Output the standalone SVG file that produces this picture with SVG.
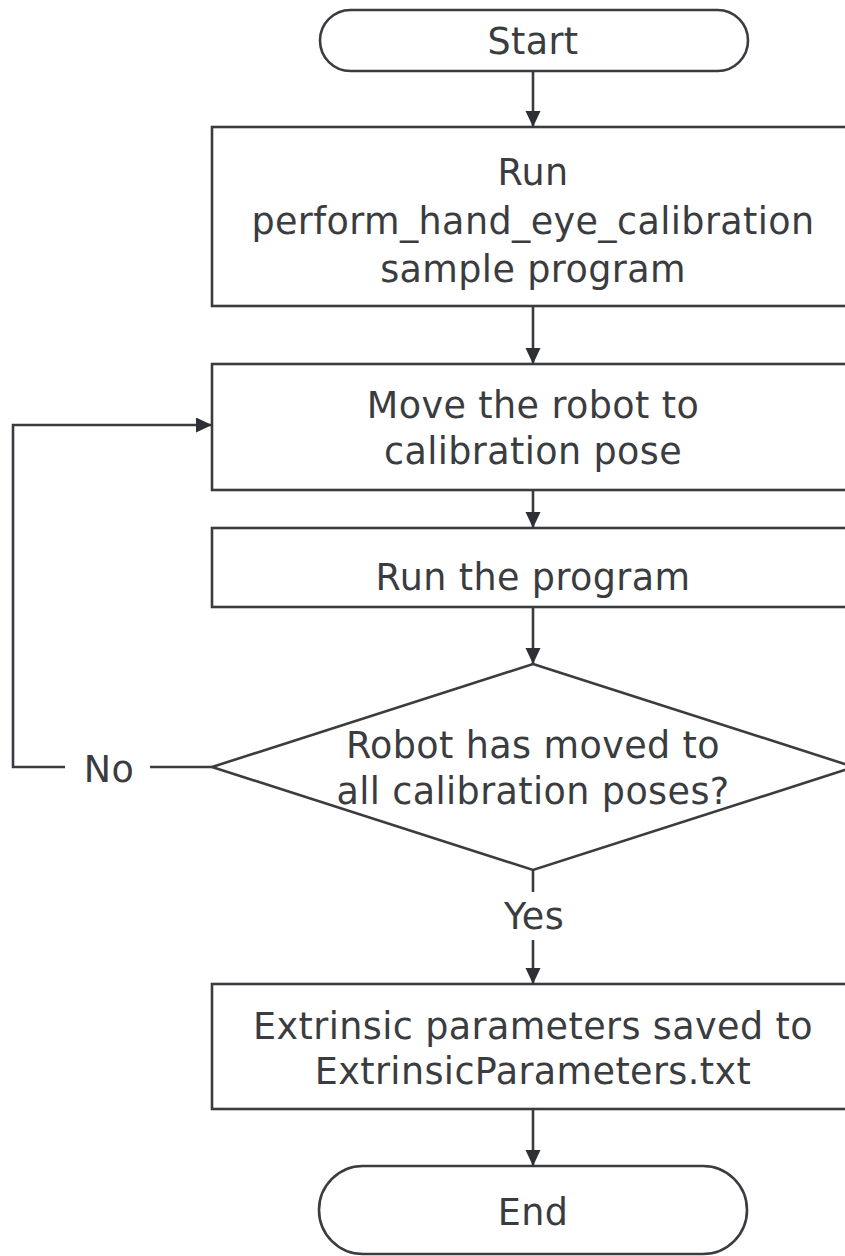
<svg xmlns="http://www.w3.org/2000/svg" width="845" height="1256" viewBox="0 0 845 1256">
<defs>
<marker id="ah" markerWidth="18" markerHeight="18" refX="16" refY="7.5" orient="auto" markerUnits="userSpaceOnUse">
<path d="M0,0 L16,7.5 L0,15 Z" fill="#2e3035"/>
</marker>
<style>
.n{fill:#fff;stroke:#3a3c40;stroke-width:2.6}
.t{font-family:"DejaVu Sans",sans-serif;font-size:36.5px;letter-spacing:0.4px;fill:#3a3c40;text-anchor:middle;dominant-baseline:central}
.c{fill:none;stroke:#3a3c40;stroke-width:2.6}
</style>
</defs>
<rect width="845" height="1256" fill="#fff"/>
<g id="start"><rect class="n" x="320" y="10" width="428" height="61" rx="30.5"/><text class="t" x="533" y="41">Start</text></g>
<g id="run"><rect class="n" x="212" y="127" width="642" height="179"/><text class="t" x="533" y="172">Run</text><text class="t" x="533" y="221">perform_hand_eye_calibration</text><text class="t" x="533" y="269">sample program</text></g>
<g id="move"><rect class="n" x="212" y="364" width="642" height="126"/><text class="t" x="533" y="405">Move the robot to</text><text class="t" x="533" y="451">calibration pose</text></g>
<g id="runprog"><rect class="n" x="212" y="528" width="642" height="79"/><text class="t" x="533" y="577">Run the program</text></g>
<g id="decision"><polygon class="n" points="533,664 854,767 533,870 212,767"/><text class="t" x="533" y="745">Robot has moved to</text><text class="t" x="533" y="791">all calibration poses?</text></g>
<g id="save"><rect class="n" x="212" y="984" width="642" height="125"/><text class="t" x="533" y="1026">Extrinsic parameters saved to</text><text class="t" x="533" y="1071">ExtrinsicParameters.txt</text></g>
<g id="end"><rect class="n" x="319" y="1166" width="428" height="88" rx="44"/><text class="t" x="533" y="1212">End</text></g>
<g id="connectors">
<line class="c" x1="533" y1="71" x2="533" y2="127" marker-end="url(#ah)"/>
<line class="c" x1="533" y1="306" x2="533" y2="364" marker-end="url(#ah)"/>
<line class="c" x1="533" y1="490" x2="533" y2="528" marker-end="url(#ah)"/>
<line class="c" x1="533" y1="607" x2="533" y2="664" marker-end="url(#ah)"/>
<line class="c" x1="533" y1="870" x2="533" y2="892"/>
<line class="c" x1="533" y1="940" x2="533" y2="984" marker-end="url(#ah)"/>
<line class="c" x1="533" y1="1109" x2="533" y2="1166" marker-end="url(#ah)"/>
<line class="c" x1="212" y1="767" x2="150" y2="767"/>
<polyline class="c" points="65,767 13,767 13,425 212,425" marker-end="url(#ah)"/>
<text class="t" x="534" y="916">Yes</text>
<text class="t" x="109" y="769">No</text>
</g>
</svg>
